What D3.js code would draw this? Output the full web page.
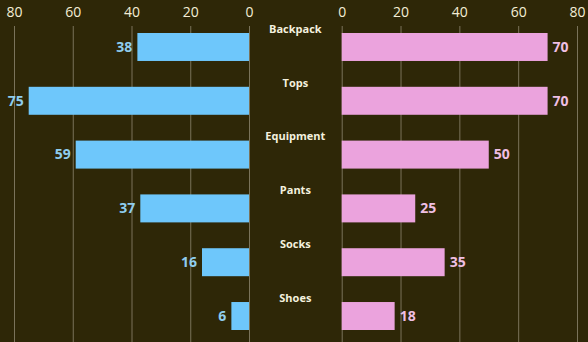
<!DOCTYPE html>
<html>
<head>
<meta charset="utf-8">
<script src="https://cdn.jsdelivr.net/npm/d3@7/dist/d3.min.js"></script>
<style>
  html, body { margin: 0; padding: 0; background: #2e2707; }
  svg { display: block; }
</style>
</head>
<body>
<svg id="chart" width="588" height="342"></svg>
<script>
// Product categories with two opposing series
const categories = ["Backpack", "Tops", "Equipment", "Pants", "Socks", "Shoes"];
const leftValues = [38, 75, 59, 37, 16, 6];
const rightValues = [70, 70, 50, 25, 35, 18];
const tickValues = [0, 20, 40, 60, 80];

const W = 588, H = 342;
const svg = d3.select("#chart");

svg.append("rect").attr("width", W).attr("height", H).attr("fill", "#2e2707");

// Left panel grows leftwards from the centre gutter, right panel grows rightwards
const xLeft = d3.scaleLinear().domain([0, 80]).range([249, 14]);
const xRight = d3.scaleLinear().domain([0, 80]).range([341.7, 577]);

const y = d3.scaleBand()
  .domain(categories)
  .range([33, 330])
  .paddingInner(0.48)
  .paddingOuter(0);

const font = "'Segoe UI', 'Open Sans', 'Noto Sans', sans-serif";

function drawAxis(scale) {
  const axis = d3.axisTop(scale).tickValues(tickValues).tickSize(-(H - 26)).tickPadding(0);
  const g = svg.append("g").attr("transform", "translate(0,26)").call(axis);
  g.select(".domain").remove();
  g.selectAll(".tick line").attr("stroke", "#7a735a").attr("stroke-width", 1);
  g.selectAll(".tick text")
    .attr("y", -14)
    .attr("dy", "0.35em")
    .attr("fill", "#f4eed6")
    .style("font-family", font)
    .style("font-size", "14px");
}
drawAxis(xLeft);
drawAxis(xRight);

// Left bars (blue)
svg.append("g").selectAll("rect")
  .data(categories)
  .join("rect")
  .attr("x", (d, i) => xLeft(leftValues[i]))
  .attr("y", d => y(d))
  .attr("width", (d, i) => xLeft(0) - xLeft(leftValues[i]))
  .attr("height", y.bandwidth())
  .attr("fill", "#6ec7fb");

// Right bars (pink)
svg.append("g").selectAll("rect")
  .data(categories)
  .join("rect")
  .attr("x", xRight(0))
  .attr("y", d => y(d))
  .attr("width", (d, i) => xRight(rightValues[i]) - xRight(0))
  .attr("height", y.bandwidth())
  .attr("fill", "#eba3dd");

// Value labels
svg.append("g").selectAll("text")
  .data(categories)
  .join("text")
  .attr("x", (d, i) => xLeft(leftValues[i]) - 5)
  .attr("y", d => y(d) + y.bandwidth() / 2)
  .attr("dy", "0.35em")
  .attr("text-anchor", "end")
  .attr("fill", "#8fcdee")
  .style("font-family", font)
  .style("font-size", "14px")
  .style("font-weight", "bold")
  .text((d, i) => leftValues[i]);

svg.append("g").selectAll("text")
  .data(categories)
  .join("text")
  .attr("x", (d, i) => xRight(rightValues[i]) + 5)
  .attr("y", d => y(d) + y.bandwidth() / 2)
  .attr("dy", "0.35em")
  .attr("text-anchor", "start")
  .attr("fill", "#efbfe3")
  .style("font-family", font)
  .style("font-size", "14px")
  .style("font-weight", "bold")
  .text((d, i) => rightValues[i]);

// Category labels in the centre gutter
svg.append("g").selectAll("text")
  .data(categories)
  .join("text")
  .attr("x", (xLeft(0) + xRight(0)) / 2)
  .attr("y", d => y(d) - 4)
  .attr("dy", "0.35em")
  .attr("text-anchor", "middle")
  .attr("fill", "#f4f1df")
  .style("font-family", font)
  .style("font-size", "11px")
  .style("font-weight", "bold")
  .text(d => d);
</script>
</body>
</html>
